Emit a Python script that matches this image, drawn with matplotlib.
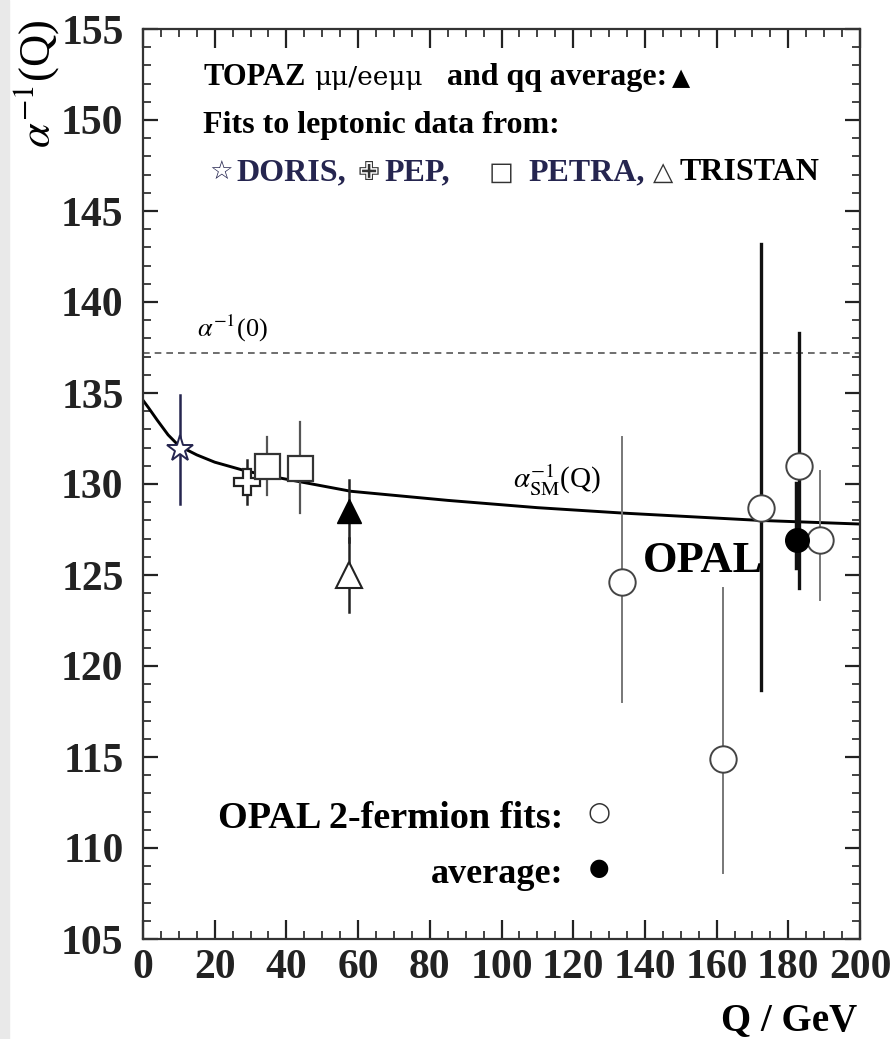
import matplotlib
matplotlib.use("Agg")
import matplotlib.pyplot as plt
from matplotlib.patches import Rectangle

plt.rcParams['font.family'] = ['Liberation Serif', 'DejaVu Sans']
plt.rcParams['mathtext.fontset'] = 'stix'

# running alpha curve
q_sm = [0, 1.5, 4, 7, 10, 15, 20, 29, 39, 58, 85, 110, 134, 172, 200]
a_sm = [134.6, 134.2, 133.5, 132.7, 132.1, 131.6, 131.2, 130.7, 130.3, 129.6,
        129.1, 128.7, 128.4, 128.0, 127.8]
alpha0 = 137.2

# low energy fits
doris_q, doris_a, doris_e = [10.3], [131.9], [3.0]
pep_q, pep_a, pep_e = [29.0], [130.1], [1.2]
petra_q, petra_a, petra_e = [34.5, 43.8], [131.0, 130.9], [1.6, 2.5]
topaz_q, topaz_a, topaz_e = [57.5], [128.5], [1.7]
tristan_q, tristan_a, tristan_e = [57.5], [125.0], [2.05]

# OPAL 2-fermion fits
opal_q = [133.6, 161.8, 172.4, 183.0, 188.8]
opal_a = [124.6, 114.9, 128.7, 131.0, 126.9]
opal_up = [8.0, 9.4, 14.5, 7.3, 3.8]
opal_dn = [6.6, 6.3, 10.0, 6.7, 3.3]
opal_thick = [False, False, True, True, False]

avg_q, avg_a, avg_up, avg_dn = [182.4], [126.9], [3.1], [1.5]

x_ticks = [0, 20, 40, 60, 80, 100, 120, 140, 160, 180, 200]
y_ticks = [105, 110, 115, 120, 125, 130, 135, 140, 145, 150, 155]

fig = plt.figure(figsize=(8.96, 10.39), dpi=100)
fig.patches.append(Rectangle((0, 0), 9 / 896, 1, transform=fig.transFigure,
                             color='#e9e9e9', zorder=-10))
ax = fig.add_axes([143 / 896, 1 - 939 / 1039, 717 / 896, 910 / 1039])

navy = '#25254f'

ax.axhline(alpha0, ls=(0, (4, 3)), color='#555555', lw=1.2, zorder=1)
ax.plot(q_sm, a_sm, color='black', lw=2.1, zorder=2)

# error bars first, markers on top
def ebar(q, a, dn, up, color, lw, z=3):
    for qi, ai, d, u in zip(q, a, dn, up):
        ax.plot([qi, qi], [ai - d, ai + u], color=color, lw=lw, zorder=z)

ebar(doris_q, doris_a, doris_e, doris_e, navy, 1.8)
ebar(pep_q, pep_a, pep_e, pep_e, '#222222', 1.8)
ebar(petra_q, petra_a, petra_e, petra_e, '#555555', 1.6)
ebar(topaz_q, topaz_a, topaz_e, topaz_e, '#222222', 1.8)
ebar(tristan_q, tristan_a, tristan_e, tristan_e, '#222222', 1.8)

for qi, ai, u, d, thick in zip(opal_q, opal_a, opal_up, opal_dn, opal_thick):
    if thick:
        ebar([qi], [ai], [d], [u], '#111111', 2.4)
    else:
        ebar([qi], [ai], [d], [u], '#777777', 1.4)
ebar(avg_q, avg_a, avg_dn, avg_up, '#111111', 3.2, z=4)

ax.plot(doris_q, doris_a, ls='none', marker='*', ms=20, mfc='white', mec=navy, mew=1.4, zorder=5)
ax.plot(pep_q, pep_a, ls='none', marker='P', ms=19, mfc='white', mec='#222222', mew=1.6, zorder=5)
ax.plot(petra_q, petra_a, ls='none', marker='s', ms=18, mfc='white', mec='#333333', mew=1.6, zorder=5)
ax.plot(topaz_q, topaz_a, ls='none', marker='^', ms=17, mfc='black', mec='black', zorder=5)
ax.plot(tristan_q, tristan_a, ls='none', marker='^', ms=19, mfc='white', mec='#222222', mew=1.5, zorder=5)
ax.plot(opal_q, opal_a, ls='none', marker='o', ms=19, mfc='white', mec='#444444', mew=1.4, zorder=5)
ax.plot(avg_q, avg_a, ls='none', marker='o', ms=17, mfc='black', mec='black', zorder=6)

ax.set_xlim(0, 200)
ax.set_ylim(105, 155)
ax.set_xticks(x_ticks)
ax.set_yticks(y_ticks)
ax.set_xticks(range(0, 201, 5), minor=True)
ax.set_yticks(range(105, 156), minor=True)
ax.tick_params(direction='in', top=True, right=True, which='both', colors='#222222')
ax.tick_params(axis='x', which='major', length=14, width=1.6, pad=7, labelsize=30)
ax.tick_params(axis='x', which='minor', length=6, width=1.2)
ax.tick_params(axis='y', which='major', length=11, width=1.6, pad=14, labelsize=30)
ax.tick_params(axis='y', which='minor', length=6, width=1.2)
for lab in ax.get_xticklabels() + ax.get_yticklabels():
    lab.set_fontweight('bold')
for sp in ax.spines.values():
    sp.set_linewidth(1.6)
    sp.set_color('#333333')

ax.set_ylabel(r'$\alpha^{-1}$(Q)', fontsize=32, rotation=90)
ax.yaxis.set_label_coords(-0.115, 0.94)
ax.text(0.996, -0.1, 'Q / GeV', transform=ax.transAxes, ha='right', va='baseline',
        fontsize=28, fontweight='bold')

def put(x, y, s, **kw):
    return ax.text(x, y, s, transform=ax.transAxes, va='baseline', **kw)

bold = dict(fontsize=23, fontweight='bold')
sym = dict(fontsize=19, family=['DejaVu Sans'])

# legend-like header
put(0.0837, 0.9385, 'TOPAZ', fontsize=22, fontweight='bold')
put(0.238, 0.9385, 'μμ/eeμμ', fontsize=19, family=['DejaVu Serif'])
put(0.424, 0.9385, 'and qq average:', **bold)
put(0.751, 0.9385, '▲', ha='center', fontsize=17, family=['DejaVu Sans'])
put(0.0837, 0.8857, 'Fits to leptonic data from:', **bold)

put(0.1088, 0.834, '☆', ha='center', color=navy, **sym)
put(0.131, 0.834, 'DORIS,', color=navy, **bold)
put(0.314, 0.834, '✙', ha='center', color='#333333', **sym)
put(0.337, 0.834, 'PEP,', color=navy, **bold)
put(0.499, 0.834, '□', ha='center', color='#333333', **sym)
put(0.537, 0.834, 'PETRA,', color=navy, **bold)
put(0.725, 0.834, '△', ha='center', color='#333333', **sym)
put(0.749, 0.834, 'TRISTAN', **bold)

put(0.075, 0.6615, r'$\alpha^{-1}$(0)', fontsize=19)
put(0.516, 0.4956, r'$\alpha^{-1}_{\rm SM}$(Q)', fontsize=21)
put(0.697, 0.403, 'OPAL', fontsize=32, fontweight='bold')

put(0.586, 0.122, 'OPAL 2-fermion fits:', ha='right', fontsize=27.5, fontweight='bold')
put(0.586, 0.0615, 'average:', ha='right', fontsize=26, fontweight='bold')
ax.text(0.636, 0.1385, '○', transform=ax.transAxes, ha='center', va='center',
        fontsize=19, family=['DejaVu Sans'], color='#333333')
ax.text(0.636, 0.078, '●', transform=ax.transAxes, ha='center', va='center',
        fontsize=17, family=['DejaVu Sans'])

fig.savefig('out.png', dpi=100)
